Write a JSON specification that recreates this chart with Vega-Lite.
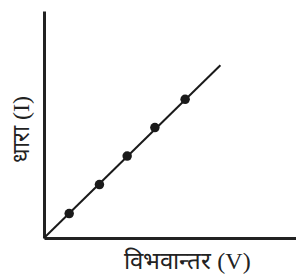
{
  "$schema": "https://vega.github.io/schema/vega-lite/v6.json",
  "width": 252,
  "height": 227,
  "autosize": {"type": "none"},
  "padding": {"left": 44, "top": 11, "right": 0, "bottom": 40},
  "background": "white",
  "config": {"view": {"stroke": null}},
  "datasets": {
    "line": [{"v": 0, "i": 0}, {"v": 7.0, "i": 6.85}],
    "pts": [
      {"v": 1.0, "i": 0.97},
      {"v": 2.2, "i": 2.12},
      {"v": 3.3, "i": 3.25},
      {"v": 4.4, "i": 4.38},
      {"v": 5.6, "i": 5.5}
    ]
  },
  "layer": [
    {
      "data": {"name": "line"},
      "mark": {"type": "line", "color": "#1a1a1a", "strokeWidth": 2},
      "encoding": {
        "x": {
          "field": "v", "type": "quantitative",
          "scale": {"domain": [0, 10], "nice": false, "zero": false},
          "axis": {
            "title": "विभवान्तर (V)", "grid": false, "ticks": false, "labels": false,
            "domainColor": "#222", "domainWidth": 3,
            "titleFont": "Liberation Serif, Times New Roman, serif", "titleFontSize": 24,
            "titleFontWeight": "normal", "titleColor": "#222",
            "titleX": 143, "titleY": 23, "titleBaseline": "middle", "titleAlign": "center"
          }
        },
        "y": {
          "field": "i", "type": "quantitative",
          "scale": {"domain": [0, 9], "nice": false, "zero": false},
          "axis": {
            "title": "धारा (I)", "grid": false, "ticks": false, "labels": false,
            "domainColor": "#222", "domainWidth": 3,
            "titleFont": "Liberation Serif, Times New Roman, serif", "titleFontSize": 24,
            "titleFontWeight": "normal", "titleColor": "#222",
            "titleX": -23, "titleY": 118, "titleBaseline": "middle", "titleAlign": "center", "titleAngle": -90
          }
        }
      }
    },
    {
      "data": {"name": "pts"},
      "mark": {"type": "point", "filled": true, "color": "#1a1a1a", "opacity": 1, "size": 90},
      "encoding": {
        "x": {"field": "v", "type": "quantitative"},
        "y": {"field": "i", "type": "quantitative"}
      }
    }
  ]
}
